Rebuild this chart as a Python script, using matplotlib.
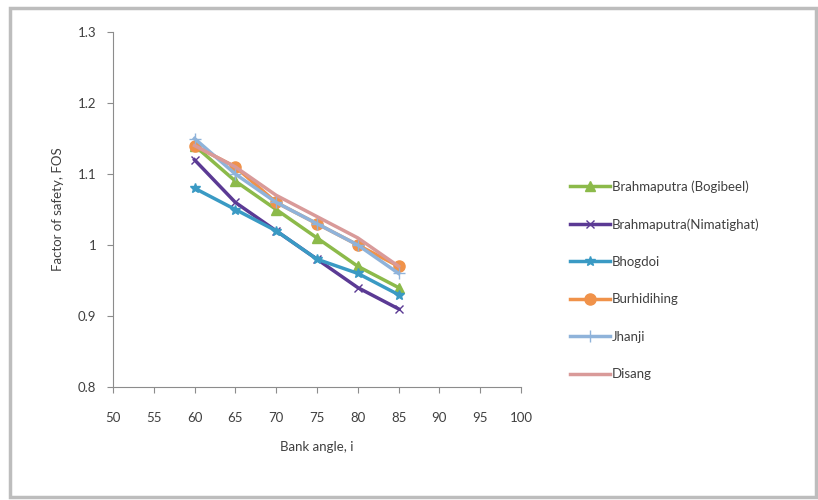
import matplotlib
matplotlib.use("Agg")
import matplotlib.pyplot as plt
from matplotlib.patches import Rectangle

plt.rcParams['font.family'] = ['Lato', 'DejaVu Sans']

angles = [60, 65, 70, 75, 80, 85]
bogibeel = [1.14, 1.09, 1.05, 1.01, 0.97, 0.94]
nimatighat = [1.12, 1.06, 1.02, 0.98, 0.94, 0.91]
bhogdoi = [1.08, 1.05, 1.02, 0.98, 0.96, 0.93]
burhidihing = [1.14, 1.11, 1.06, 1.03, 1.00, 0.97]
jhanji = [1.15, 1.10, 1.06, 1.03, 1.00, 0.96]
disang = [1.14, 1.11, 1.07, 1.04, 1.01, 0.97]

labels = ["Brahmaputra (Bogibeel)", "Brahmaputra(Nimatighat)", "Bhogdoi",
          "Burhidihing", "Jhanji", "Disang"]
xticks = [50, 55, 60, 65, 70, 75, 80, 85, 90, 95, 100]
yticks = [0.8, 0.9, 1.0, 1.1, 1.2, 1.3]
yticklabels = ["0.8", "0.9", "1", "1.1", "1.2", "1.3"]

fig = plt.figure(figsize=(8.18, 5.0), dpi=100)
fig.patches.append(Rectangle((0.012, 0.006), 0.985, 0.979, transform=fig.transFigure,
                             fill=False, edgecolor='#bdbdbd', linewidth=2.5))
ax = fig.add_axes([0.138, 0.226, 0.499, 0.710])

ax.plot(angles, bogibeel, color='#8cba4a', marker='^', markersize=7, lw=2.5, label=labels[0])
ax.plot(angles, nimatighat, color='#5b3a94', marker='x', markersize=6, mew=1, lw=2.5, label=labels[1])
ax.plot(angles, bhogdoi, color='#3a9ac4', marker='*', markersize=7, lw=2.5, label=labels[2])
ax.plot(angles, burhidihing, color='#f0924a', marker='o', markersize=8, lw=2.5, label=labels[3])
ax.plot(angles, jhanji, color='#8fb3da', marker='+', markersize=8, lw=2.5, label=labels[4])
ax.plot(angles, disang, color='#d99a99', lw=2.5, label=labels[5])

ax.set_xlim(50, 100)
ax.set_ylim(0.8, 1.3)
ax.set_xticks(xticks)
ax.set_xticklabels([str(t) for t in xticks])
ax.set_yticks(yticks)
ax.set_yticklabels(yticklabels)
for s in ['top', 'right']:
    ax.spines[s].set_visible(False)
for s in ['left', 'bottom']:
    ax.spines[s].set_color('#8c8c8c')
ax.tick_params(axis='both', colors='#8c8c8c', labelcolor='#404040', labelsize=9.5,
               direction='out', length=4)
ax.tick_params(axis='x', pad=14)
ax.tick_params(axis='y', pad=8)
ax.set_xlabel("Bank angle, i", fontsize=9.5, color='#404040', labelpad=12)
ax.set_ylabel("Factor of safety, FOS", fontsize=9.5, color='#404040', labelpad=10)

leg = fig.legend(loc='upper left', bbox_to_anchor=(0.697, 0.640), frameon=False,
                 borderaxespad=0, borderpad=0,
                 fontsize=9.5, labelspacing=1.93, handlelength=3.0, handletextpad=0.15)
for t in leg.get_texts():
    t.set_color('#404040')

fig.savefig("out.png", dpi=100)
